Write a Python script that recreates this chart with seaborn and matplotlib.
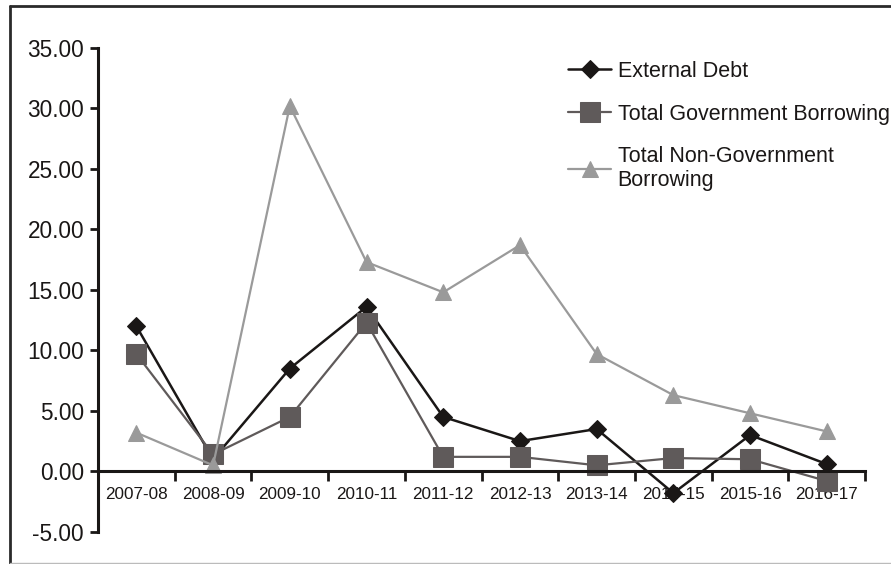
import matplotlib
matplotlib.use("Agg")
import matplotlib.pyplot as plt
from matplotlib.lines import Line2D
import pandas as pd
import seaborn as sns

periods = ["2007-08", "2008-09", "2009-10", "2010-11", "2011-12",
           "2012-13", "2013-14", "2014-15", "2015-16", "2016-17"]
external_debt = [12.0, 1.0, 8.5, 13.6, 4.5, 2.5, 3.5, -1.8, 3.0, 0.6]
govt_borrowing = [9.7, 1.4, 4.5, 12.3, 1.2, 1.2, 0.5, 1.1, 1.0, -0.8]
non_govt_borrowing = [3.2, 0.5, 30.2, 17.3, 14.8, 18.7, 9.7, 6.3, 4.8, 3.3]
y_ticks = [-5, 0, 5, 10, 15, 20, 25, 30, 35]

sns.set_style("white")
plt.rcParams["font.family"] = ["Liberation Sans", "DejaVu Sans"]

series = [
    ("External Debt", external_debt, "#1a1716", "D", 9, 1.8),
    ("Total Government Borrowing", govt_borrowing, "#5f5a5a", "s", 14, 1.6),
    ("Total Non-Government\nBorrowing", non_govt_borrowing, "#9a9a9a", "^", 12, 1.6),
]

fig = plt.figure(figsize=(8.91, 5.64), dpi=100)
ax = fig.add_axes([0.110, 0.057, 0.861, 0.858])

for name, vals, col, mk, ms, lw in series:
    df = pd.DataFrame({"period": periods, "value": vals})
    sns.lineplot(data=df, x="period", y="value", ax=ax, color=col, marker=mk,
                 markersize=ms, markeredgecolor=col, linewidth=lw, label=name,
                 sort=False)

ax.set_xlim(-0.5, len(periods) - 0.5)
ax.set_ylim(-5, 35)
ax.set_yticks(y_ticks)
ax.set_yticklabels([f"{v:.2f}" for v in y_ticks])
ax.set_xticks(range(len(periods)))
ax.set_xticklabels(periods)
ax.set_xticks([i - 0.5 for i in range(len(periods) + 1)], minor=True)
ax.tick_params(axis="x", which="major", bottom=False, length=0, pad=11, labelsize=12.3,
               labelcolor="#1a1716")
ax.tick_params(axis="x", which="minor", bottom=True, length=7, width=2, direction="out",
               color="#1a1716")
ax.tick_params(axis="y", left=True, length=6, width=2, direction="out", color="#1a1716",
               pad=4, labelsize=16.3, labelcolor="#1a1716")
ax.set_xlabel("")
ax.set_ylabel("")

for s in ["top", "right"]:
    ax.spines[s].set_visible(False)
ax.spines["bottom"].set_position(("data", 0))
for s in ["left", "bottom"]:
    ax.spines[s].set_linewidth(2.2)
    ax.spines[s].set_color("#1a1716")

leg = ax.legend(loc="upper left", bbox_to_anchor=(568 / 891, 1 - 61 / 564),
                bbox_transform=fig.transFigure, frameon=False, fontsize=15.5,
                handlelength=2.0, handletextpad=0.3, labelspacing=1.0,
                borderaxespad=0, borderpad=0)
for t in leg.get_texts():
    t.set_color("#1a1716")

# outer frame of the exhibit
fig.add_artist(Line2D([10 / 891, 1], [1 - 6 / 564, 1 - 6 / 564], color="#2a2a2a", lw=2))
fig.add_artist(Line2D([10 / 891, 10 / 891], [1 - 6 / 564, 1 - 563 / 564], color="#2a2a2a", lw=2))
fig.add_artist(Line2D([10 / 891, 1], [1 - 563 / 564, 1 - 563 / 564], color="#bbbbbb", lw=1))

fig.savefig("out.png", dpi=100)
